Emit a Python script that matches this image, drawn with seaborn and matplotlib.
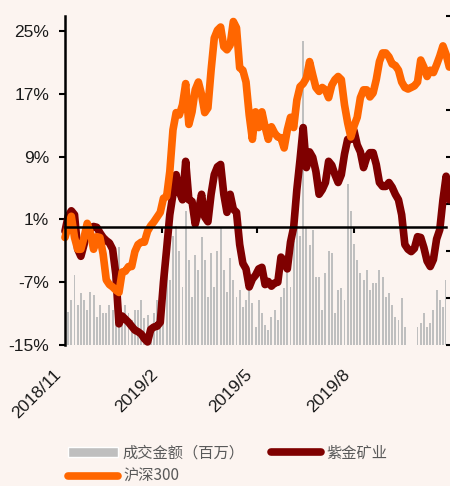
import pandas as pd
import matplotlib
matplotlib.use('Agg')
import matplotlib.pyplot as plt
import matplotlib.dates as mdates
import matplotlib.transforms as mtransforms
from matplotlib.patches import Patch
from matplotlib.lines import Line2D
import seaborn as sns

# 读图得到的数值 (每3天一个点)
hs300 = [-1.3, 0.1, 1.4, -1.3, -2.8, -2.8, -1.3, 0.5, -0.7, -2.8,
         -1.2, -1.3, -3.4, -6.7, -7.3, -7.6, -8.0, -8.3, -5.7, -5.6,
         -5.0, -5.0, -3.1, -2.2, -1.9, -1.9, -0.5, 0.2, 0.7, 1.3,
         1.9, 3.7, 3.9, 7.1, 12.4, 14.6, 14.3, 15.6, 18.3, 13.1,
         14.7, 17.5, 18.5, 16.9, 14.6, 15.2, 20.0, 24.1, 25.1, 25.5,
         23.0, 22.6, 23.2, 26.2, 25.4, 20.3, 20.0, 18.5, 14.3, 11.2,
         14.7, 12.7, 14.7, 12.8, 11.2, 12.8, 12.0, 11.5, 11.4, 10.1,
         12.4, 14.0, 12.7, 16.2, 17.9, 18.3, 19.0, 21.1, 19.4, 17.8,
         17.3, 17.8, 17.5, 16.5, 18.1, 18.8, 19.2, 18.8, 15.6, 13.3,
         11.5, 12.9, 14.0, 16.5, 17.5, 17.5, 16.6, 17.1, 18.8, 21.1,
         22.2, 22.2, 21.7, 20.8, 20.6, 20.0, 18.5, 17.8, 17.6, 17.8,
         18.0, 18.5, 21.3, 20.4, 19.2, 20.0, 19.7, 20.7, 21.8, 23.1,
         22.0, 20.4]
zijin = [-0.5, 1.4, 2.1, 1.6, -2.8, -3.7, -2.2, 0.0, -0.1, 0.1,
         0.0, -0.7, -1.3, -1.7, -2.0, -2.8, -6.0, -12.3, -11.3, -11.7,
         -12.1, -12.6, -13.1, -13.3, -13.6, -14.2, -14.6, -13.0, -12.7, -12.6,
         -12.1, -7.0, -2.8, 1.6, 4.2, 6.7, 4.5, 3.5, 8.4, 3.5,
         3.3, 0.4, 2.0, 4.2, 1.3, 0.7, 4.2, 6.7, 7.7, 8.0,
         4.2, 1.9, 4.2, 2.3, 1.9, -2.2, -4.6, -5.3, -7.6, -6.6,
         -6.1, -5.3, -5.1, -7.3, -6.9, -7.5, -7.1, -7.0, -3.8, -4.3,
         -5.3, -1.9, 0.0, 4.8, 8.6, 12.7, 7.6, 9.6, 8.9, 7.1,
         4.2, 4.8, 5.7, 8.4, 7.9, 6.7, 5.7, 6.7, 9.3, 11.2,
         11.2, 12.3, 10.5, 9.6, 7.6, 8.9, 9.5, 9.5, 8.0, 5.7,
         5.2, 5.2, 5.7, 5.1, 4.2, 3.5, 1.6, -2.2, -2.8, -3.1,
         -2.7, -1.2, -1.3, -2.6, -4.3, -5.0, -4.1, -1.5, -0.3, 3.5,
         6.5, 3.5]
volume = [0.70, 0.70, 0.95, 1.48, 0.85, 1.10, 0.95, 0.74, 1.12, 1.06,
          0.59, 0.85, 0.68, 0.68, 0.85, 0.74, 0.95, 2.08, 0.64, 0.85,
          0.68, 0.53, 0.74, 0.74, 0.95, 0.57, 0.64, 0.42, 0.68, 0.95,
          0.68, 1.17, 1.69, 1.38, 2.33, 2.54, 2.01, 1.23, 2.86, 1.80,
          1.02, 1.91, 1.59, 2.29, 1.80, 1.02, 1.95, 1.23, 2.01, 2.48,
          1.59, 1.12, 1.86, 1.38, 1.02, 1.17, 0.81, 0.95, 1.17, 0.89,
          0.38, 0.95, 0.68, 0.42, 0.32, 0.59, 0.74, 0.53, 1.02, 1.21,
          1.74, 1.23, 2.22, 2.54, 2.33, 6.46, 2.48, 2.12, 2.44, 1.44,
          1.44, 0.74, 1.53, 2.01, 1.95, 0.68, 1.17, 1.21, 0.95, 3.43,
          2.86, 2.16, 1.80, 1.53, 1.38, 1.59, 1.17, 1.31, 1.31, 1.59,
          1.44, 1.02, 1.10, 0.85, 0.59, 0.53, 1.00, 0.38, 0, 0,
          0, 0.38, 0.47, 0.68, 0.38, 0.47, 0.74, 1.17, 0.95, 0.81,
          1.38, 2.16]
dates = pd.date_range('2018-11-01', periods=len(hs300), freq='3D')

tick_dates = pd.to_datetime(['2018-11-01', '2019-02-01', '2019-05-01', '2019-08-01'])
tick_labels = ['2018/11', '2019/2', '2019/5', '2019/8']
y_ticks = [-15, -7, 1, 9, 17, 25]

bg = '#fcf4f0'
sns.set_theme(style='white')
plt.rcParams['font.family'] = ['Liberation Sans', 'Noto Sans CJK SC', 'DejaVu Sans']

fig = plt.figure(figsize=(4.5, 4.86), dpi=100, facecolor=bg)
ax = fig.add_axes([0.1444, 0.290, 0.847, 0.677])
ax2 = ax.twinx()
ax.set_zorder(ax2.get_zorder() + 1)
ax.patch.set_visible(False)
ax2.set_facecolor(bg)

# 成交金额 柱
ax2.bar(dates, volume, width=1.8, color='#bfbfbf', linewidth=0)
ax2.set_ylim(0, 7)
ax2.set_yticks(range(8))
ax2.tick_params(axis='y', right=True, length=4, width=1.5, direction='out',
                labelright=False, color='black')
for s in ax2.spines.values():
    s.set_visible(False)

# 两条线
sns.lineplot(x=dates, y=zijin, ax=ax, color='#7f0000', linewidth=5.5, clip_on=False, legend=False)
sns.lineplot(x=dates, y=hs300, ax=ax, color='#ff6600', linewidth=5.5, clip_on=False, legend=False)

ax.set_xlim(pd.Timestamp('2018-11-01'), pd.Timestamp('2019-10-27'))
ax.set_ylim(-15, 26.9)
ax.set_yticks(y_ticks)
ax.set_yticklabels([f'{v}%' for v in y_ticks])
ax.set_xticks(tick_dates)
ax.set_xlabel('')
ax.set_ylabel('')
ax.tick_params(axis='y', left=True, length=4.5, width=1.5, direction='out',
               labelsize=12.5, pad=7, color='black', labelcolor='#1a1a1a')
ax.tick_params(axis='x', bottom=True, length=4, width=1.5, direction='out',
               labelbottom=False, color='black')
ax.spines['top'].set_visible(False)
ax.spines['right'].set_visible(False)
ax.spines['left'].set_color('black')
ax.spines['left'].set_linewidth(1.8)
ax.spines['bottom'].set_position(('data', 0))
ax.spines['bottom'].set_color('black')
ax.spines['bottom'].set_linewidth(1.8)

# 日期标签放在底部
sec = ax.secondary_xaxis(0.0)
sec.set_xticks(mdates.date2num(tick_dates))
sec.set_xticklabels(tick_labels, rotation=45, ha='right', rotation_mode='anchor',
                    fontsize=12.5, color='#1a1a1a')
sec.tick_params(length=0, pad=8)
sec.spines['bottom'].set_visible(False)
shift = mtransforms.ScaledTranslation(-12 / 100, -11 / 100, fig.dpi_scale_trans)
for lab in sec.get_xticklabels():
    lab.set_transform(lab.get_transform() + shift)

handles = [Patch(facecolor='#bfbfbf', label='成交金额（百万）'),
           Line2D([], [], color='#ff6600', lw=5.5, label='沪深300'),
           Line2D([], [], color='#7f0000', lw=5.5, label='紫金矿业')]
fig.legend(handles=handles, ncol=2, loc='upper left', bbox_to_anchor=(0.151, 0.085),
           frameon=False, prop={'family': ['Noto Sans CJK SC'], 'size': 11},
           labelcolor='#595959', handlelength=3.3, handleheight=0.65,
           handletextpad=0.3, columnspacing=1.7, labelspacing=0.4,
           borderpad=0, borderaxespad=0)

fig.savefig('out.png', dpi=100, facecolor=bg)
